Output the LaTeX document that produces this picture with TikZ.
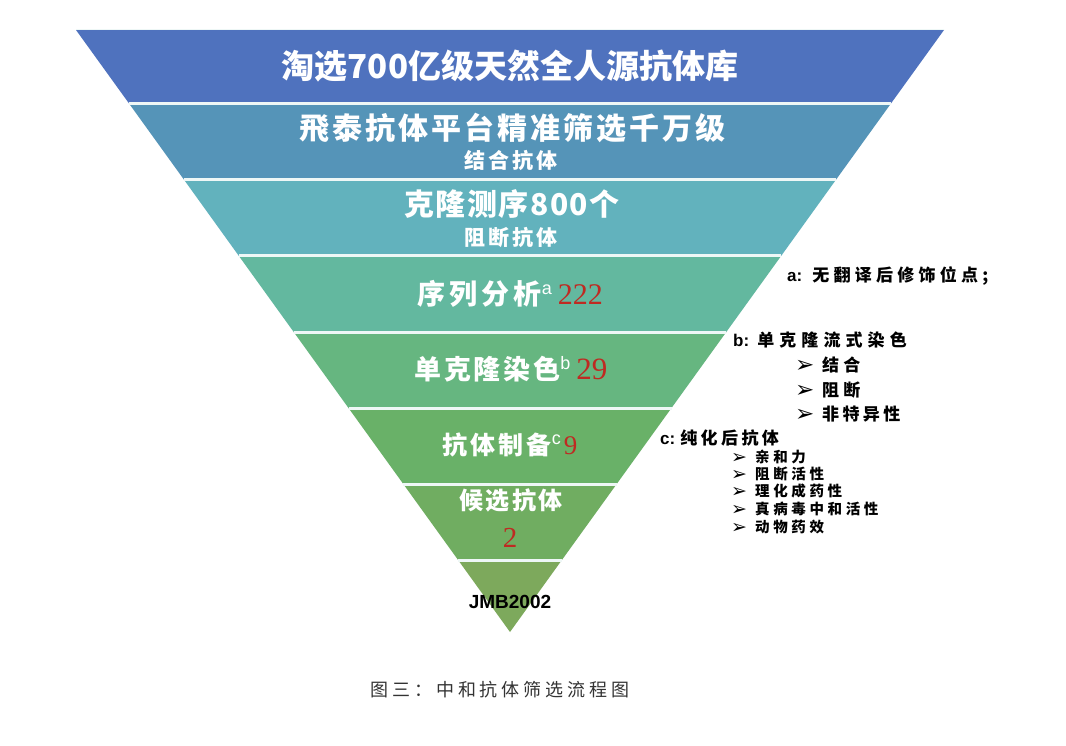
\documentclass[tikz,border=0pt]{standalone}
\usepackage{fontspec}
\setmainfont{Liberation Serif}
\setsansfont{Liberation Sans}
\newfontfamily\cjk{Noto Sans CJK SC}
\newfontfamily\dvs{DejaVu Sans}
\definecolor{bA}{HTML}{4F72BE}
\definecolor{bB}{HTML}{5594B8}
\definecolor{bC}{HTML}{62B2BD}
\definecolor{bD}{HTML}{63B89F}
\definecolor{bE}{HTML}{66B680}
\definecolor{bF}{HTML}{69B168}
\definecolor{bG}{HTML}{70AD61}
\definecolor{bH}{HTML}{7DA95C}
\definecolor{numred}{HTML}{BF2A22}
\definecolor{sepc}{HTML}{EEF7F6}
\definecolor{capc}{HTML}{333333}
\newcommand\cjkt[3]{{\cjk\fontsize{#1}{#1}\selectfont\addfontfeatures{LetterSpace=#2}#3}}
\newcommand\cjkbt[3]{{\cjk\bfseries\fontsize{#1}{#1}\selectfont\addfontfeatures{LetterSpace=#2}#3}}
\newcommand\supl[1]{\raisebox{10pt}{\sffamily\fontsize{18}{18}\selectfont #1}}
\newcommand\redn[2]{{\color{numred}\rmfamily\fontsize{#1}{#1}\selectfont #2}}
\newcommand\latb[2]{{\sffamily\bfseries\fontsize{#1}{#1}\selectfont #2}}
\newcommand\arw[1]{{\dvs\bfseries\fontsize{#1}{#1}\selectfont ➢}}
\tikzset{
  bandtxt/.style={text=white, inner sep=0pt, anchor=base},
  anno/.style={text=black, inner sep=0pt, anchor=base west},
  annos/.style={anno, text height=11pt, text depth=1.5pt},
  sepline/.style={draw=sepc, line width=3pt}
}
\begin{document}
\begin{tikzpicture}[x=1pt,y=-1pt]
\useasboundingbox (0,0) rectangle (1066,746);
\fill[white] (0,0) rectangle (1066,746);
% band corners
\coordinate (L0) at (76,30);     \coordinate (R0) at (944,30);
\coordinate (L1) at (129.4,104); \coordinate (R1) at (890.6,104);
\coordinate (L2) at (184.2,180); \coordinate (R2) at (835.8,180);
\coordinate (L3) at (238.9,256); \coordinate (R3) at (781.1,256);
\coordinate (L4) at (293.7,332); \coordinate (R4) at (726.3,332);
\coordinate (L5) at (348.5,408); \coordinate (R5) at (671.5,408);
\coordinate (L6) at (403.3,484); \coordinate (R6) at (616.7,484);
\coordinate (L7) at (458.1,560); \coordinate (R7) at (561.9,560);
\coordinate (AP) at (510,632);
\fill[bA] (L0)--(R0)--(R1)--(L1)--cycle;
\fill[bB] (L1)--(R1)--(R2)--(L2)--cycle;
\fill[bC] (L2)--(R2)--(R3)--(L3)--cycle;
\fill[bD] (L3)--(R3)--(R4)--(L4)--cycle;
\fill[bE] (L4)--(R4)--(R5)--(L5)--cycle;
\fill[bF] (L5)--(R5)--(R6)--(L6)--cycle;
\fill[bG] (L6)--(R6)--(R7)--(L7)--cycle;
\fill[bH] (L7)--(R7)--(AP)--cycle;
\draw[sepline] (L1)--(R1);
\draw[sepline] (L2)--(R2);
\draw[sepline] (L3)--(R3);
\draw[sepline] (L4)--(R4);
\draw[sepline] (L5)--(R5);
\draw[sepline] (L6)--(R6);
\draw[sepline] (L7)--(R7);
\draw[draw=sepc, line width=1pt] (L0)--(R0);
% band texts
\node[bandtxt] (t1) at (510,79) {\cjkbt{33}{0}{淘选700亿级天然全人源抗体库}};
\node[bandtxt] (t2) at (512,140) {\cjkbt{30}{10}{飛泰抗体平台精准筛选千万级}};
\node[bandtxt] (t2b) at (511,168.5) {\cjkbt{21}{15}{结合抗体}};
\node[bandtxt] (t3) at (512,216) {\cjkbt{30}{5}{克隆测序800个}};
\node[bandtxt] (t3b) at (511,245.5) {\cjkbt{21}{15}{阻断抗体}};
\node[bandtxt] (t4) at (510,305) {\cjkbt{28}{15}{序列分析}\supl{a}\hspace{6pt}\redn{30}{222}};
\node[bandtxt] (t5) at (511,379) {\cjkbt{27}{10}{单克隆染色}\supl{b}\hspace{6pt}\redn{31}{29}};
\node[bandtxt] (t6) at (510,454) {\cjkbt{25}{12}{抗体制备}\supl{c}\hspace{3pt}\redn{27}{9}};
\node[bandtxt] (t7) at (511,509) {\cjkbt{24}{10}{候选抗体}};
\node[bandtxt] (t7b) at (510,547) {\redn{29}{2}};
\node[inner sep=0pt, anchor=base, text=black] (t8) at (510,608) {\latb{19}{JMB2002}};
% annotations
\node[anno] (na) at (787,281) {\latb{17}{a:}\hspace{10pt}\cjkbt{17}{25}{无翻译后修饰位点;}};
\node[anno] (nb) at (733,346) {\latb{17}{b:}\hspace{8pt}\cjkbt{17}{30}{单克隆流式染色}};
\node[annos] (nb1a) at (795,372) {\arw{23}};
\node[annos] (nb1) at (822,371) {\cjkbt{17}{25}{结合}};
\node[annos] (nb2a) at (795,397) {\arw{23}};
\node[annos] (nb2) at (822,396) {\cjkbt{17}{25}{阻断}};
\node[annos] (nb3a) at (795,421) {\arw{23}};
\node[annos] (nb3) at (822,420) {\cjkbt{17}{20}{非特异性}};
\node[annos] (nc) at (660,444) {\latb{17}{c:}\hspace{5pt}\cjkbt{17}{20}{纯化后抗体}};
\node[annos] (nc1a) at (731,463.5) {\arw{19}};
\node[annos] (nc1) at (755,462.5) {\cjkbt{14.5}{25}{亲和力}};
\node[annos] (nc2a) at (731,480.5) {\arw{19}};
\node[annos] (nc2) at (755,479.5) {\cjkbt{14.5}{25}{阻断活性}};
\node[annos] (nc3a) at (731,497.5) {\arw{19}};
\node[annos] (nc3) at (755,496.5) {\cjkbt{14.5}{25}{理化成药性}};
\node[annos] (nc4a) at (731,515.5) {\arw{19}};
\node[annos] (nc4) at (755,514.5) {\cjkbt{14.5}{25}{真病毒中和活性}};
\node[annos] (nc5a) at (731,533.5) {\arw{19}};
\node[annos] (nc5) at (755,532.5) {\cjkbt{14.5}{25}{动物药效}};
% caption
\node[inner sep=0pt, anchor=base west, text=capc] (cap) at (370,696.5) {\cjkt{18}{22}{图三：中和抗体筛选流程图}};
\end{tikzpicture}
\end{document}
